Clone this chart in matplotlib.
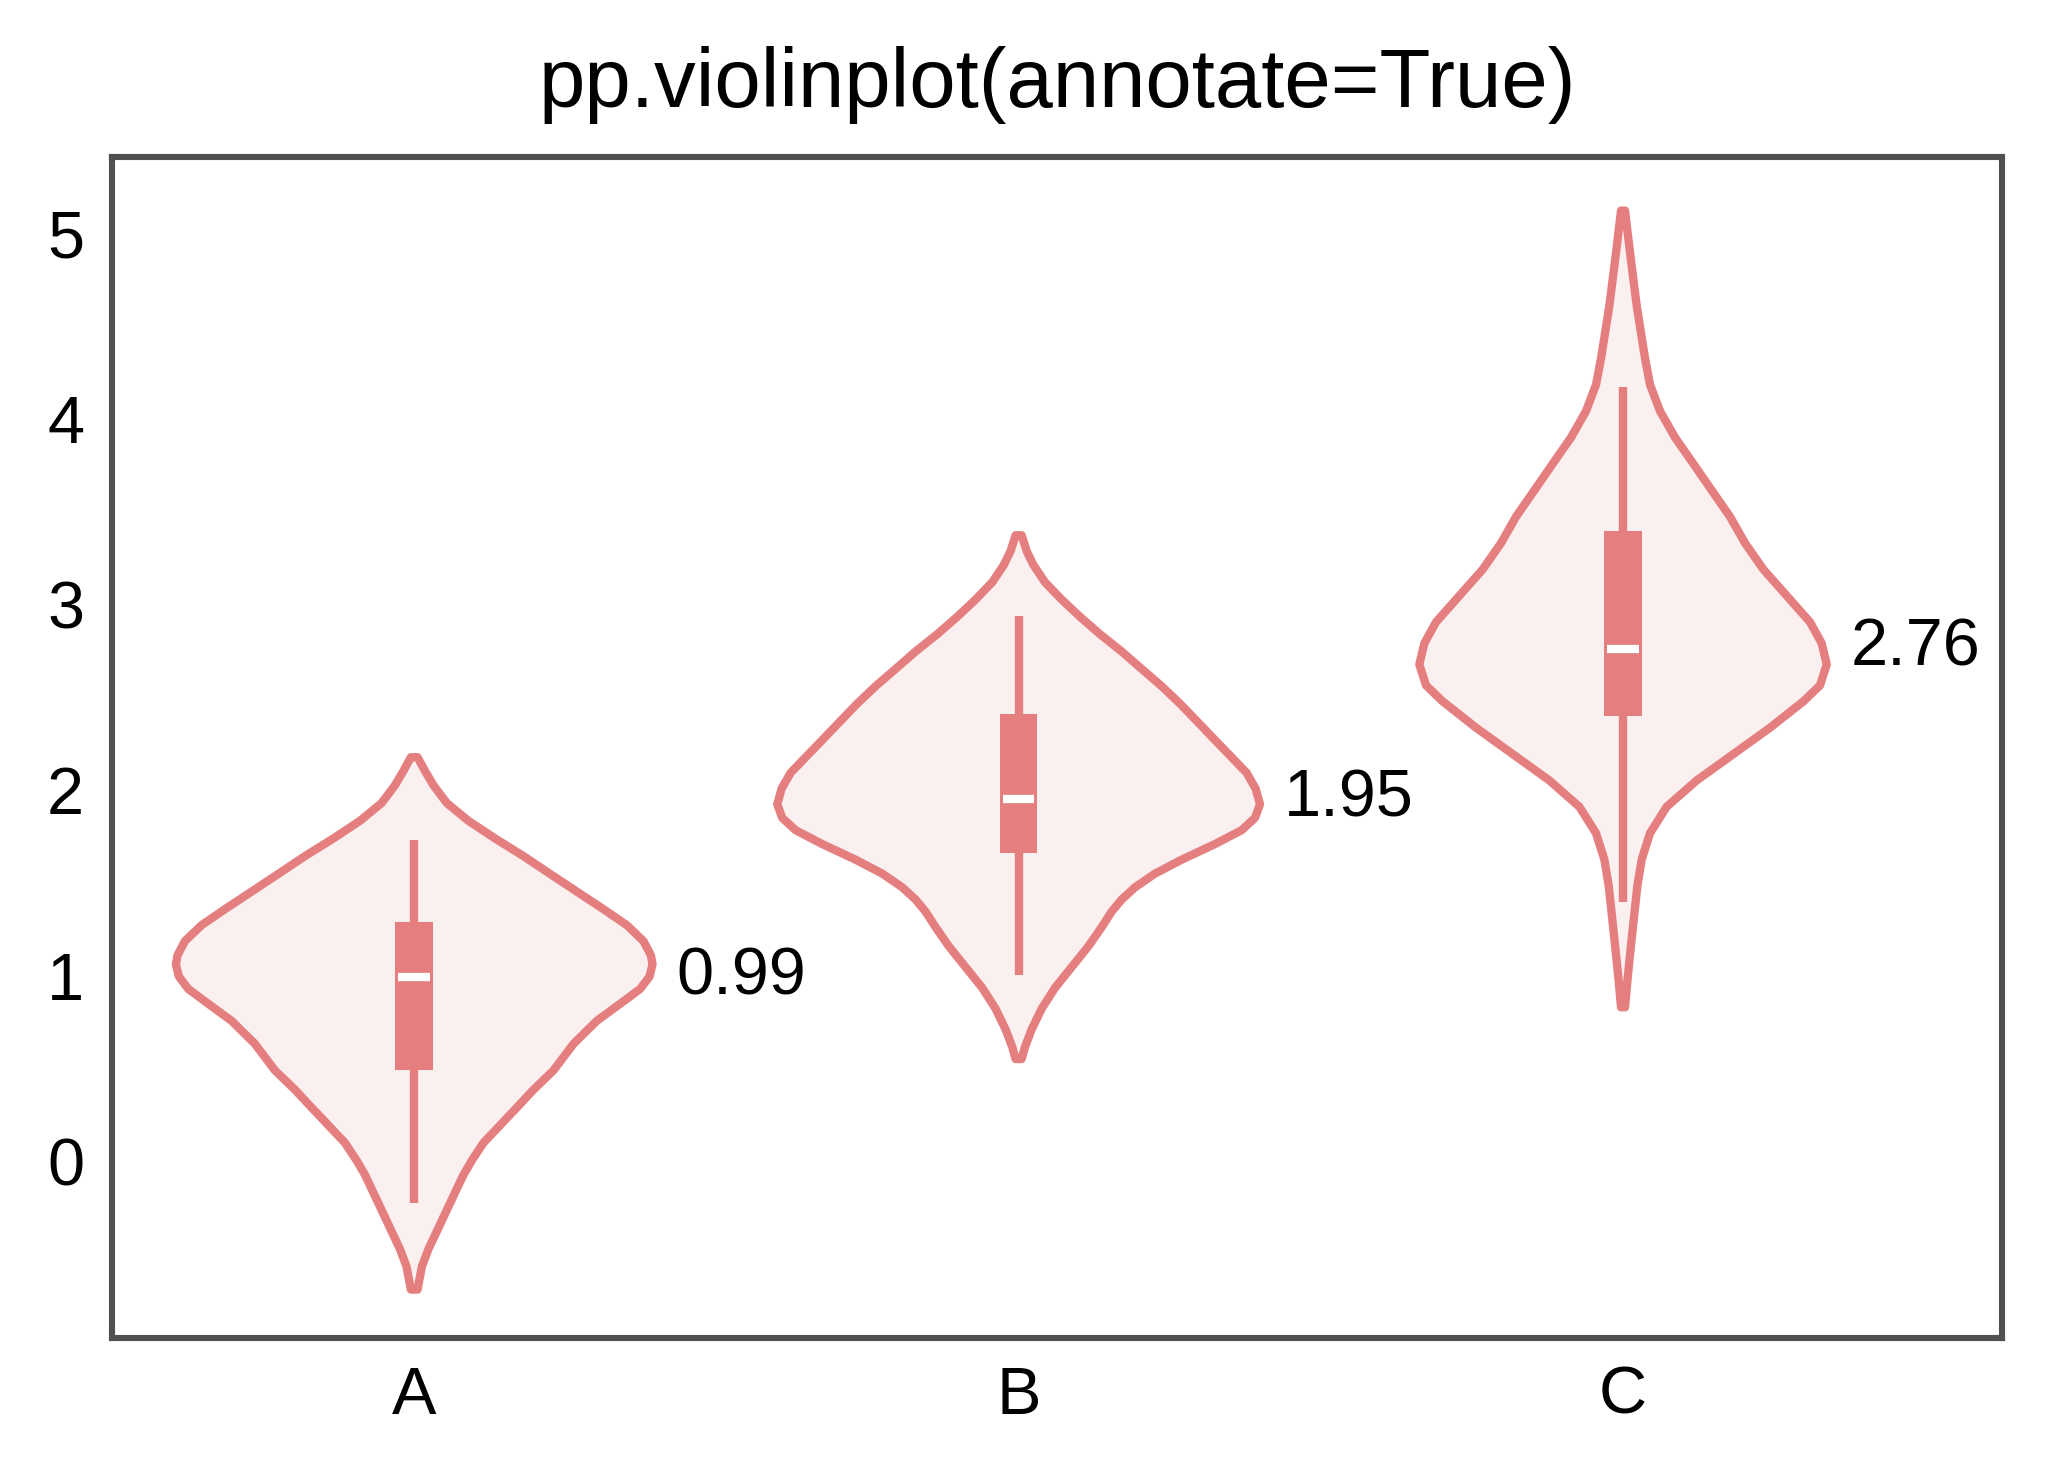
import numpy as np
import matplotlib
matplotlib.use("Agg")
import matplotlib.pyplot as plt

plt.rcParams['font.family'] = ['Liberation Sans', 'DejaVu Sans']

# ---- data ----
categories = ["A", "B", "C"]

# violin density profiles: y values and half-widths (in category-axis units)
prof_A_y = [2.176, 2.100, 2.024, 1.929, 1.833, 1.738, 1.643, 1.547, 1.452, 1.357,
            1.271, 1.185, 1.109, 1.061, 0.995, 0.928, 0.861, 0.756, 0.632, 0.489,
            0.385, 0.308, 0.194, 0.099, 0.004, -0.073, -0.168, -0.263, -0.378,
            -0.473, -0.568, -0.692]
prof_A_w = [0.0055, 0.0182, 0.0320, 0.0540, 0.0899, 0.1340, 0.1809, 0.2250, 0.2691,
            0.3133, 0.3519, 0.3794, 0.3916, 0.3943, 0.3894, 0.3739, 0.3463, 0.3022,
            0.2636, 0.2305, 0.1974, 0.1754, 0.1423, 0.1147, 0.0954, 0.0816, 0.0678,
            0.0540, 0.0375, 0.0237, 0.0127, 0.0055]

prof_B_y = [3.372, 3.288, 3.213, 3.119, 3.026, 2.933, 2.839, 2.746, 2.652, 2.559,
            2.465, 2.372, 2.278, 2.185, 2.092, 2.007, 1.923, 1.849, 1.783, 1.708,
            1.624, 1.549, 1.475, 1.409, 1.344, 1.260, 1.157, 1.045, 0.933, 0.821,
            0.709, 0.615, 0.550]
prof_B_w = [0.0050, 0.0132, 0.0243, 0.0436, 0.0711, 0.1015, 0.1346, 0.1704, 0.2035,
            0.2366, 0.2669, 0.2945, 0.3221, 0.3497, 0.3772, 0.3921, 0.3993, 0.3910,
            0.3690, 0.3248, 0.2697, 0.2256, 0.1925, 0.1704, 0.1539, 0.1373, 0.1153,
            0.0877, 0.0601, 0.0381, 0.0215, 0.0105, 0.0050]

prof_C_y = [5.121, 4.894, 4.609, 4.325, 4.183, 4.041, 3.899, 3.757, 3.614, 3.472,
            3.330, 3.188, 3.046, 2.904, 2.790, 2.676, 2.563, 2.477, 2.335, 2.193,
            2.051, 1.909, 1.767, 1.625, 1.483, 1.198, 0.971, 0.829]
prof_C_w = [0.0033, 0.0116, 0.0226, 0.0364, 0.0447, 0.0612, 0.0860, 0.1164, 0.1467,
            0.1770, 0.2018, 0.2322, 0.2708, 0.3094, 0.3287, 0.3370, 0.3259, 0.2984,
            0.2432, 0.1825, 0.1219, 0.0722, 0.0447, 0.0309, 0.0237, 0.0143, 0.0072,
            0.0033]

# box statistics
q1 = [0.492, 1.662, 2.396]
q3 = [1.287, 2.411, 3.397]
medians = [0.99, 1.95, 2.76]
whisk_lo = [-0.227, 1.005, 1.395]
whisk_hi = [1.73, 2.936, 4.173]

profiles_y = [prof_A_y, prof_B_y, prof_C_y]
profiles_w = [prof_A_w, prof_B_w, prof_C_w]

# ---- style ----
line_col = "#E57F7F"
fill_col = "#FBF0F0"
frame_col = "#505050"

fig = plt.figure(figsize=(2049 / 400, 1477 / 400), dpi=400)
ax = fig.add_axes([0.05466, 0.09411, 0.9224, 0.7996])

for i, (py, pw) in enumerate(zip(profiles_y, profiles_w)):
    py = np.asarray(py)
    pw = np.asarray(pw)
    xs = np.concatenate([i + pw, (i - pw)[::-1]])
    ys = np.concatenate([py, py[::-1]])
    ax.fill(xs, ys, facecolor=fill_col, edgecolor=line_col, linewidth=1.5,
            joinstyle="round", zorder=2)
    # whisker
    ax.vlines(i, whisk_lo[i], whisk_hi[i], color=line_col, linewidth=1.5,
              capstyle="butt", zorder=3)
    # box
    ax.bar(i, q3[i] - q1[i], bottom=q1[i], width=0.062, color=line_col,
           linewidth=0, zorder=4)
    # median
    ax.hlines(medians[i], i - 0.026, i + 0.026, color="white", linewidth=1.5,
              zorder=5)
    # annotation
    ax.text(i + pw.max() + 0.04, medians[i], f"{medians[i]:.2f}",
            ha="left", va="center", fontsize=12, color="black", zorder=6)

ax.set_xlim(-0.5, 2.627)
ax.set_ylim(-0.953, 5.41)
ax.set_xticks(range(len(categories)))
ax.set_xticklabels(categories)
ax.set_yticks([0, 1, 2, 3, 4, 5])
ax.tick_params(axis="both", length=0, pad=5, labelsize=12, colors="black")
for sp in ax.spines.values():
    sp.set_color(frame_col)
    sp.set_linewidth(1.1)
ax.set_title("pp.violinplot(annotate=True)", fontsize=15, pad=9)

fig.savefig("out.png", dpi=400)
